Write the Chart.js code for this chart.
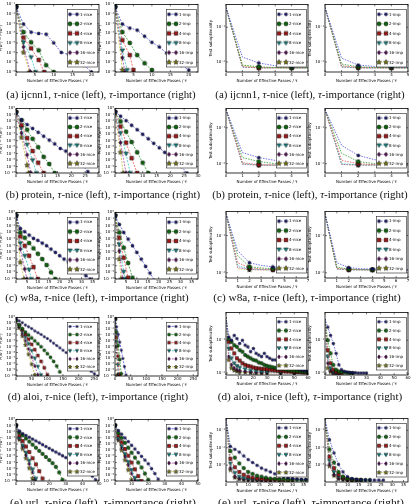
<!DOCTYPE html>
<html>
<head>
<meta charset="utf-8">
<script src="https://cdn.jsdelivr.net/npm/chart.js@4.4.1/dist/chart.umd.min.js"></script>
<style>
  body { margin: 0; background: #fff; }
  #page { position: relative; width: 413px; height: 504px; overflow: hidden; background: #fff; }
  #page canvas { position: absolute; }
  .cap { position: absolute; font-family: "Liberation Serif", serif; font-size: 10.5px; white-space: nowrap; color: #111; }
</style>
</head>
<body>
<div id="page"></div>
<script>
const niceLabels = ['1-nice', '2-nice', '4-nice', '8-nice', '16-nice', '32-nice'];
const impLabels = ['1-imp', '2-imp', '4-imp', '8-imp', '16-imp', '32-imp'];

// passes at which the curves were logged
const evenPasses = [0,2,4,6,8,10,12,14,16,18,20,22,24,26,28,30,32,34,36,38,40,42,44,46,48,50,52,54,56,58,60];
const tenPasses = [0,10,20,30,40,50,60,70,80,90,100,110,120,130,140,150,160,170,180,190,200,210,220,230,240,250,260];
const fivePasses = [0,5,10,15,20,25,30,35,40];
const unitPasses = [0,1,2,3,4,5,6,7];
const sparsePasses = [0,2,4,6,8,10,14,18,22,26,30,40,50,60];

// values are log10 of P(w^t) - P(w*) (or of the test suboptimality), one row per minibatch size
const ijcnnNiceX = [evenPasses, evenPasses, [0,2,4,6,7.5], [0,2,4,5.2], [0,2,3.8], [0,2,3.6]];
const ijcnnNiceLog = [
  [-1.28,-3.03,-3.87,-4.01,-4.08,-4.99,-5.97,-6.18,-7.09,-7.3,-8],
  [-1.28,-3.87,-4.92,-5.76,-7.3,-8],
  [-1.28,-4.43,-5.55,-6.74,-8],
  [-1.28,-4.92,-6.46,-8],
  [-1.28,-5.41,-8],
  [-1.28,-5.97,-8]];
const ijcnnImpX = [evenPasses, evenPasses, [0,2,4,5], [0,2,3.3], [0,2,2.7], evenPasses];
const ijcnnImpLog = [
  [-1.28,-3.03,-3.45,-3.66,-4.29,-4.92,-5.41,-6.04,-6.53,-7.3,-7.79],
  [-1.28,-3.87,-4.99,-6.25,-7.09,-7.79],
  [-1.28,-4.71,-6.25,-7.79],
  [-1.28,-5.76,-7.79],
  [-1.28,-6.53,-8],
  [-1.28,-7.79]];
const ijcnnNiceTest = [
  [-0.43,-1.86,-2.03,-2.11,-2.14,-2.14],
  [-0.43,-2.09,-2.14,-2.16,-2.17,-2.17],
  [-0.43,-2.14,-2.17,-2.17,-2.17,-2.17],
  [-0.43,-2.15,-2.17,-2.17,-2.17,-2.17],
  [-0.43,-2.15,-2.17,-2.17,-2.17,-2.17],
  [-0.43,-2.10,-2.16,-2.17,-2.17,-2.17]];
const ijcnnImpTest = [
  [-0.43,-1.89,-2.09,-2.13,-2.14,-2.15],
  [-0.43,-2.06,-2.14,-2.16,-2.16,-2.17],
  [-0.43,-2.11,-2.16,-2.17,-2.17,-2.17],
  [-0.43,-2.14,-2.17,-2.17,-2.17,-2.17],
  [-0.43,-2.15,-2.17,-2.17,-2.17,-2.17],
  [-0.43,-2.15,-2.17,-2.17,-2.17,-2.17]];

const proteinNiceX = [evenPasses, evenPasses, evenPasses, [0,2,4,6,7.4], [0,2,4,5.4], [0,2,4,4.6]];
const proteinNiceLog = [
  [-0.6,-1.8,-2.5,-3.1,-3.7,-4.3,-4.9,-5.5,-6.2,-6.6,-7.2,-7.5,-8.8,-9.8],
  [-0.6,-1.8,-3.3,-4.7,-6.0,-7.5,-8.6,-10],
  [-0.6,-2.6,-4.6,-6.6,-8.4,-10],
  [-0.6,-3.0,-5.6,-8.0,-10],
  [-0.6,-3.8,-7.2,-10],
  [-0.6,-4.5,-8.8,-10]];
const proteinImpX = [evenPasses, evenPasses, evenPasses, [0,2,4,5.5], evenPasses, [0,2,3]];
const proteinImpLog = [
  [-0.5,-1.2,-1.9,-2.6,-3.3,-4.0,-4.7,-5.4,-6.1,-6.8,-7.5,-8.2,-9.0,-10],
  [-0.6,-2.0,-3.6,-5.2,-6.8,-8.4,-10],
  [-0.6,-2.8,-5.3,-7.7,-10],
  [-0.6,-3.8,-7.0,-10],
  [-0.6,-5.3,-10],
  [-0.6,-6.8,-10]];
const proteinNiceTest = [
  [-0.49,-1.69,-1.83,-1.91,-1.97,-2.00],
  [-0.49,-1.83,-1.94,-2.00,-2.03,-2.03],
  [-0.49,-1.97,-2.03,-2.04,-2.04,-2.04],
  [-0.49,-2.00,-2.04,-2.04,-2.04,-2.04],
  [-0.49,-2.02,-2.04,-2.04,-2.04,-2.04],
  [-0.49,-2.00,-2.04,-2.04,-2.04,-2.04]];
const proteinImpTest = [
  [-0.49,-1.49,-1.77,-1.89,-1.94,-2.00],
  [-0.49,-1.71,-1.94,-2.00,-2.03,-2.03],
  [-0.49,-1.91,-2.00,-2.03,-2.04,-2.04],
  [-0.49,-2.00,-2.03,-2.04,-2.04,-2.04],
  [-0.49,-2.02,-2.04,-2.04,-2.04,-2.04],
  [-0.49,-2.02,-2.04,-2.04,-2.04,-2.04]];

const w8aNiceX = [evenPasses, evenPasses, evenPasses, [0,2,4,6,7], [0,2,4,5], [0,2,3.7]];
const w8aNiceLog = [
  [-0.5,-2.4,-2.9,-3.4,-3.9,-4.2,-4.6,-5.0,-5.5,-6.0,-6.5,-7.0,-7.5,-8.0,-8.5,-9.0,-9.5,-10],
  [-0.5,-3.0,-3.8,-4.6,-5.4,-6.2,-7.0,-7.9,-9.0,-10],
  [-0.5,-3.6,-5.0,-6.5,-8.2,-10],
  [-0.5,-4.6,-6.5,-8.6,-10],
  [-0.5,-5.5,-8.5,-10],
  [-0.5,-7.5,-10]];
const w8aImpX = [evenPasses, evenPasses, evenPasses, [0,2,4,4.6], [0,2,3.5], [0,2,2.8]];
const w8aImpLog = [
  [-0.5,-1.8,-3.0,-4.0,-5.0,-6.0,-7.0,-8.1,-9.1,-10.2],
  [-0.5,-3.0,-5.3,-7.6,-9.8],
  [-0.5,-3.8,-6.8,-9.8],
  [-0.5,-4.8,-8.9,-10],
  [-0.5,-5.8,-10],
  [-0.5,-7.0,-10]];
const w8aNiceTest = [
  [-0.41,-1.41,-1.73,-1.80,-1.84,-1.86,-1.88,-1.89],
  [-0.41,-1.54,-1.84,-1.87,-1.89,-1.90,-1.91,-1.92],
  [-0.41,-1.73,-1.86,-1.90,-1.91,-1.92,-1.92,-1.92],
  [-0.41,-1.81,-1.89,-1.91,-1.92,-1.92,-1.92,-1.92],
  [-0.41,-1.86,-1.91,-1.92,-1.92,-1.92,-1.92,-1.92],
  [-0.41,-1.89,-1.92,-1.92,-1.92,-1.92,-1.92,-1.92]];
const w8aImpTest = [
  [-0.41,-1.73,-1.86,-1.89,-1.90,-1.91,-1.92,-1.92],
  [-0.41,-1.85,-1.90,-1.91,-1.92,-1.92,-1.92,-1.92],
  [-0.41,-1.88,-1.91,-1.92,-1.92,-1.92,-1.92,-1.92],
  [-0.41,-1.89,-1.92,-1.92,-1.92,-1.92,-1.92,-1.92],
  [-0.41,-1.90,-1.92,-1.92,-1.92,-1.92,-1.92,-1.92],
  [-0.41,-1.90,-1.92,-1.92,-1.92,-1.92,-1.92,-1.92]];

const aloiNiceX = [tenPasses, tenPasses, tenPasses, tenPasses, tenPasses, tenPasses];
const aloiNiceLog = [
  [-0.2,-0.6,-0.9,-1.3,-1.6,-1.9,-2.3,-2.6,-2.9,-3.3,-3.6,-4.0,-4.4,-4.8,-5.2,-5.6,-6.0,-6.4,-6.8,-7.2,-7.6,-8.0,-8.4,-8.8,-9.2,-9.6,-10],
  [-0.5,-1.3,-1.9,-2.5,-3.0,-3.5,-4.0,-4.5,-5.0,-5.6,-6.2,-6.8,-7.5,-8.3,-9.3],
  [-0.5,-1.3,-2.1,-2.9,-3.7,-4.6,-5.5,-6.5,-7.5,-8.6,-9.8],
  [-0.5,-1.4,-2.4,-3.4,-4.5,-5.7,-7.0,-8.4,-9.8],
  [-0.5,-1.6,-2.8,-4.0,-5.4,-6.8,-8.3,-9.8],
  [-0.5,-1.8,-3.2,-4.7,-6.3,-8.0,-9.8]];
const aloiImpX = [fivePasses, fivePasses, fivePasses, [0,5,10,12], fivePasses, [0,4,8]];
const aloiImpLog = [
  [-0.3,-1.6,-2.9,-4.2,-5.6,-7.0,-8.4,-9.8],
  [-0.3,-2.5,-4.8,-7.2,-9.6],
  [-0.3,-3.4,-6.6,-9.8],
  [-0.3,-4.2,-8.1,-9.8],
  [-0.3,-5.0,-9.8],
  [-0.3,-5.0,-9.8]];
const aloiNiceTestX = [evenPasses, evenPasses, evenPasses, sparsePasses, sparsePasses, sparsePasses];
const aloiNiceTest = [
  [-0.3,-0.9,-1.0,-0.85,-0.95,-1.1,-1.0,-1.15,-1.2,-1.35,-1.25,-1.4,-1.45,-1.5,-1.4,-1.5,-1.55,-1.6,-1.6,-1.65,-1.7,-1.75,-1.75,-1.8,-1.82,-1.85,-1.88,-1.9,-1.92,-1.93,-1.95],
  [-0.3,-0.95,-1.05,-1.15,-1.2,-1.3,-1.35,-1.45,-1.5,-1.55,-1.6,-1.62,-1.68,-1.7,-1.75,-1.78,-1.8,-1.82,-1.84,-1.86,-1.87,-1.88,-1.9,-1.91,-1.92,-1.93,-1.94,-1.95,-1.96,-1.96,-1.97],
  [-0.3,-1.05,-1.25,-1.4,-1.55,-1.62,-1.7,-1.75,-1.78,-1.8,-1.83,-1.85,-1.86,-1.87,-1.88,-1.89,-1.9,-1.91,-1.92,-1.93,-1.93,-1.94,-1.95,-1.95,-1.96,-1.96,-1.97,-1.97,-1.98,-1.98,-1.98],
  [-0.3,-1.25,-1.55,-1.7,-1.78,-1.83,-1.88,-1.92,-1.94,-1.96,-1.97,-1.98,-1.99,-1.99],
  [-0.3,-1.5,-1.75,-1.85,-1.9,-1.93,-1.95,-1.97,-1.98,-1.99,-1.99,-2.0,-2.0,-2.0],
  [-0.3,-1.6,-1.85,-1.92,-1.95,-1.97,-1.98,-1.99,-2.0,-2.0,-2.0,-2.0,-2.0,-2.0]];
const aloiImpTest = [
  [-0.35,-0.6,-0.85,-1.1,-1.4,-1.75,-1.9,-1.95,-1.97,-1.98,-1.99,-1.99,-2.0,-2.0,-2.0,-2.0],
  [-0.35,-1.0,-1.4,-1.75,-1.9,-1.95,-1.97,-1.98,-1.99,-2.0,-2.0],
  [-0.35,-1.3,-1.7,-1.9,-1.96,-1.99,-2.0],
  [-0.35,-1.5,-1.85,-1.96,-1.99,-2.0],
  [-0.35,-1.7,-1.93,-1.99,-2.0],
  [-0.35,-1.85,-1.97,-2.0,-2.0]];

const urlNiceX = [evenPasses, evenPasses, evenPasses, evenPasses, [0,2,4,6,8,10,11.5], evenPasses];
const urlNiceLog = [
  [-1.0,-1.9,-2.3,-2.6,-2.9,-3.2,-3.5,-3.8,-4.1,-4.4,-4.7,-5.0,-5.3,-5.6,-5.9,-6.2,-6.5,-6.8,-7.1,-7.4,-7.6,-7.9,-8.6,-9.2,-9.8],
  [-1.0,-2.1,-2.6,-3.1,-3.6,-4.1,-4.6,-5.1,-5.6,-6.1,-6.6,-7.1,-7.7,-8.6,-9.8],
  [-1.0,-2.6,-3.5,-4.4,-5.3,-6.3,-7.3,-8.4,-9.6],
  [-1.0,-3.0,-4.2,-5.4,-6.7,-8.1,-9.6],
  [-1.0,-3.1,-4.4,-5.8,-7.2,-8.6,-9.8],
  [-1.0,-3.3,-4.8,-6.3,-7.9,-9.6]];
const urlImpLog = [
  [-1.0,-1.8,-2.4,-3.0,-3.6,-4.2,-4.8,-5.4,-6.0,-6.6,-7.2,-8.0,-8.8,-9.7],
  [-1.0,-2.2,-3.0,-3.8,-4.6,-5.4,-6.2,-7.0,-7.8,-8.8,-9.8],
  [-1.0,-2.6,-3.7,-4.8,-5.9,-7.0,-8.1,-9.2,-10],
  [-1.0,-3.0,-4.3,-5.6,-6.9,-8.2,-9.5,-10],
  [-1.0,-3.2,-4.6,-6.0,-7.4,-8.8,-10],
  [-1.0,-3.4,-5.0,-6.6,-8.2,-9.8]];
const urlNiceTest = [
  [-0.35,-1.92,-2.09,-2.25,-2.47,-2.68,-2.85,-3.01,-3.17,-3.28,-3.39,-3.5,-3.61,-3.66,-3.72,-3.77,-3.8,-3.82,-3.82],
  [-0.35,-2.19,-2.57,-2.9,-3.17,-3.39,-3.5,-3.61,-3.66,-3.72,-3.77,-3.79,-3.82,-3.82,-3.84,-3.84,-3.84,-3.85,-3.85],
  [-0.35,-2.63,-3.12,-3.39,-3.55,-3.66,-3.72,-3.77,-3.8,-3.82,-3.84,-3.84,-3.85,-3.85,-3.86,-3.86],
  [-0.35,-2.9,-3.44,-3.66,-3.75,-3.79,-3.82,-3.84,-3.84,-3.85,-3.85,-3.86,-3.86],
  [-0.35,-3.17,-3.66,-3.77,-3.82,-3.84,-3.85,-3.85,-3.86,-3.86,-3.86],
  [-0.35,-3.28,-3.72,-3.8,-3.84,-3.85,-3.86,-3.86,-3.86,-3.86,-3.86]];
const urlImpTest = [
  [-0.35,-1.54,-2.3,-2.95,-3.39,-3.66,-3.77,-3.82,-3.84,-3.85,-3.85,-3.86,-3.86,-3.86],
  [-0.35,-2.09,-2.85,-3.39,-3.66,-3.77,-3.82,-3.84,-3.85,-3.86,-3.86],
  [-0.35,-2.52,-3.17,-3.55,-3.72,-3.8,-3.84,-3.85,-3.86],
  [-0.35,-2.74,-3.39,-3.66,-3.79,-3.84,-3.85,-3.86],
  [-0.35,-2.95,-3.55,-3.77,-3.82,-3.85,-3.86],
  [-0.35,-3.06,-3.61,-3.79,-3.84,-3.86,-3.86]];

// tick labels
const ijcnnTicks = [0,5,10,15,20];
const proteinTicks = [0,5,10,15,20,25,30];
const w8aTicks = [0,5,10,15,20,25,30,35];
const aloiTicks = [0,50,100,150,200,250];
const urlTicks = [0,10,20,30,40,50];
const fiveTicks = [0,1,2,3,4,5];
const sevenTicks = [0,1,2,3,4,5,6,7];
const aloiTestTicks = [0,10,20,30,40,50,60];
const urlTestTicks = [0,5,10,15,20,25,30,35];
const ijcnnDecades = [-1,-2,-3,-4,-5,-6,-7,-8];
const convDecades = [0,-1,-2,-3,-4,-5,-6,-7,-8,-9,-10];
const testDecades = [-1,-2];
const urlTestDecades = [-1,-2,-3];

const seriesStyle = [
  { line: '#5050e0', fill: '#14146e', shape: 'circle', k: 0.75 },
  { line: '#2f9a2f', fill: '#0b640b', shape: 'circle', k: 1 },
  { line: '#ec5656', fill: '#a01414', shape: 'square', k: 1 },
  { line: '#38c4c4', fill: '#128080', shape: 'tridown', k: 1.1 },
  { line: '#b048b0', fill: '#4e0a50', shape: 'diamond', k: 1.1 },
  { line: '#c4c438', fill: '#7c7c10', shape: 'star', k: 1.3 }
];

function markerCanvas(shape, fill, size) {
  const s = Math.ceil(size) + 2;
  const c = document.createElement('canvas');
  c.width = s; c.height = s;
  const g = c.getContext('2d');
  const m = s / 2, r = size / 2;
  g.fillStyle = fill; g.strokeStyle = '#000'; g.lineWidth = 0.5;
  g.beginPath();
  if (shape === 'circle') g.arc(m, m, r, 0, Math.PI * 2);
  else if (shape === 'square') g.rect(m - r * 0.9, m - r * 0.9, r * 1.8, r * 1.8);
  else if (shape === 'tridown') { g.moveTo(m - r, m - r * 0.7); g.lineTo(m + r, m - r * 0.7); g.lineTo(m, m + r); g.closePath(); }
  else if (shape === 'diamond') { g.moveTo(m, m - r); g.lineTo(m + r * 0.75, m); g.lineTo(m, m + r); g.lineTo(m - r * 0.75, m); g.closePath(); }
  else {
    for (let k = 0; k < 10; k++) {
      const a = -Math.PI / 2 + k * Math.PI / 5, rr = k % 2 ? r * 0.45 : r;
      g.lineTo(m + rr * Math.cos(a), m + rr * Math.sin(a));
    }
    g.closePath();
  }
  g.fill(); g.stroke();
  return c;
}

const Y_AXIS_W = 17, X_AXIS_H = 11, PAD_T = 3, PAD_R = 4;

const plots = [
  { box: [16, 4, 83, 68], kind: 'conv', names: niceLabels, xs: ijcnnNiceX, ys: ijcnnNiceLog, xMax: 22, xTicks: ijcnnTicks, yMin: -8, yMax: -1, yTicks: ijcnnDecades, mk: 4 },
  { box: [115, 4, 83, 68], kind: 'conv', names: impLabels, xs: ijcnnImpX, ys: ijcnnImpLog, xMax: 22.5, xTicks: ijcnnTicks, yMin: -8, yMax: -1, yTicks: ijcnnDecades, mk: 4 },
  { box: [226, 4, 82, 68], kind: 'test', names: niceLabels, xs: [unitPasses], ys: ijcnnNiceTest, xMax: 5, xTicks: fiveTicks, yMin: -2.29, yMax: -0.34, yTicks: testDecades, mk: 4 },
  { box: [325, 4, 83, 68], kind: 'test', names: impLabels, xs: [unitPasses], ys: ijcnnImpTest, xMax: 5, xTicks: fiveTicks, yMin: -2.29, yMax: -0.34, yTicks: testDecades, mk: 4 },

  { box: [16, 108, 83, 65], kind: 'conv', names: niceLabels, xs: proteinNiceX, ys: proteinNiceLog, xMax: 30, xTicks: proteinTicks, yMin: -10, yMax: 0, yTicks: convDecades, mk: 4 },
  { box: [115, 108, 83, 65], kind: 'conv', names: impLabels, xs: proteinImpX, ys: proteinImpLog, xMax: 30, xTicks: proteinTicks, yMin: -10, yMax: 0, yTicks: convDecades, mk: 4 },
  { box: [226, 108, 82, 65], kind: 'test', names: niceLabels, xs: [unitPasses], ys: proteinNiceTest, xMax: 5, xTicks: fiveTicks, yMin: -2.26, yMax: -0.46, yTicks: testDecades, mk: 4 },
  { box: [325, 108, 83, 65], kind: 'test', names: impLabels, xs: [unitPasses], ys: proteinImpTest, xMax: 5, xTicks: fiveTicks, yMin: -2.26, yMax: -0.46, yTicks: testDecades, mk: 4 },

  { box: [16, 212, 83, 67], kind: 'conv', names: niceLabels, xs: w8aNiceX, ys: w8aNiceLog, xMax: 38, xTicks: w8aTicks, yMin: -10, yMax: 0, yTicks: convDecades, mk: 4 },
  { box: [115, 212, 83, 67], kind: 'conv', names: impLabels, xs: w8aImpX, ys: w8aImpLog, xMax: 38, xTicks: w8aTicks, yMin: -10, yMax: 0, yTicks: convDecades, mk: 4 },
  { box: [226, 211, 82, 67], kind: 'test', names: niceLabels, xs: [unitPasses], ys: w8aNiceTest, xMax: 7, xTicks: sevenTicks, yMin: -2.14, yMax: -0.35, yTicks: testDecades, mk: 4 },
  { box: [325, 211, 83, 67], kind: 'test', names: impLabels, xs: [unitPasses], ys: w8aImpTest, xMax: 7, xTicks: sevenTicks, yMin: -2.14, yMax: -0.35, yTicks: testDecades, mk: 4 },

  { box: [16, 317, 83, 59], kind: 'conv', names: niceLabels, xs: aloiNiceX, ys: aloiNiceLog, xMax: 265, xTicks: aloiTicks, yMin: -10, yMax: 0, yTicks: convDecades, mk: 3 },
  { box: [115, 317, 83, 59], kind: 'conv', names: impLabels, xs: aloiImpX, ys: aloiImpLog, xMax: 265, xTicks: aloiTicks, yMin: -10, yMax: 0, yTicks: convDecades, mk: 3 },
  { box: [226, 312, 82, 63], kind: 'test', names: niceLabels, xs: aloiNiceTestX, ys: aloiNiceTest, xMax: 60, xTicks: aloiTestTicks, yMin: -2.06, yMax: -0.15, yTicks: testDecades, mk: 3.5 },
  { box: [325, 312, 83, 63], kind: 'test', names: impLabels, xs: [evenPasses], ys: aloiImpTest, xMax: 60, xTicks: aloiTestTicks, yMin: -2.06, yMax: -0.15, yTicks: testDecades, mk: 3.5 },

  { box: [16, 419, 83, 62], kind: 'conv', names: niceLabels, xs: urlNiceX, ys: urlNiceLog, xMax: 50, xTicks: urlTicks, yMin: -10, yMax: 0, yTicks: convDecades, mk: 3.5 },
  { box: [115, 419, 83, 62], kind: 'conv', names: impLabels, xs: [evenPasses], ys: urlImpLog, xMax: 50, xTicks: urlTicks, yMin: -10, yMax: 0, yTicks: convDecades, mk: 3.5 },
  { box: [226, 418, 82, 64], kind: 'test', names: niceLabels, xs: [evenPasses], ys: urlNiceTest, xMax: 37, xTicks: urlTestTicks, yMin: -3.97, yMax: -0.31, yTicks: urlTestDecades, mk: 3.5 },
  { box: [325, 418, 83, 64], kind: 'test', names: impLabels, xs: [evenPasses], ys: urlImpTest, xMax: 37, xTicks: urlTestTicks, yMin: -3.97, yMax: -0.31, yTicks: urlTestDecades, mk: 3.5 }
];

const captions = [
  { html: '(a) ijcnn1, <i>τ</i>-nice (left), <i>τ</i>-importance (right)', cx: 101, cy: 94, w: 189 },
  { html: '(a) ijcnn1, <i>τ</i>-nice (left), <i>τ</i>-importance (right)', cx: 310, cy: 94, w: 189 },
  { html: '(b) protein, <i>τ</i>-nice (left), <i>τ</i>-importance (right)', cx: 103, cy: 194, w: 194 },
  { html: '(b) protein, <i>τ</i>-nice (left), <i>τ</i>-importance (right)', cx: 310, cy: 194, w: 195 },
  { html: '(c) w8a, <i>τ</i>-nice (left), <i>τ</i>-importance (right)', cx: 97, cy: 297, w: 184 },
  { html: '(c) w8a, <i>τ</i>-nice (left), <i>τ</i>-importance (right)', cx: 307, cy: 297, w: 188 },
  { html: '(d) aloi, <i>τ</i>-nice (left), <i>τ</i>-importance (right)', cx: 98, cy: 396, w: 180 },
  { html: '(d) aloi, <i>τ</i>-nice (left), <i>τ</i>-importance (right)', cx: 310, cy: 396, w: 184 },
  { html: '(e) url, <i>τ</i>-nice (left), <i>τ</i>-importance (right)', cx: 103, cy: 502, w: 186 },
  { html: '(e) url, <i>τ</i>-nice (left), <i>τ</i>-importance (right)', cx: 311, cy: 502, w: 186 }
];

const SUP = { '-': '⁻', '0': '⁰', '1': '¹', '2': '²', '3': '³', '4': '⁴', '5': '⁵', '6': '⁶', '7': '⁷', '8': '⁸', '9': '⁹' };
const powLabel = v => '10' + String(Math.round(Math.log10(v))).split('').map(c => SUP[c]).join('');

const framePlugin = {
  id: 'frame',
  afterDraw(chart) {
    const a = chart.chartArea, g = chart.ctx;
    const sx = chart.scales.x, sy = chart.scales.y;
    g.save();
    g.strokeStyle = '#000';
    g.lineWidth = 0.5;
    g.beginPath();
    sx.ticks.forEach(t => {
      const p = sx.getPixelForValue(t.value);
      g.moveTo(p, a.bottom); g.lineTo(p, a.bottom - 2);
      g.moveTo(p, a.top); g.lineTo(p, a.top + 2);
    });
    sy.ticks.forEach(t => {
      const p = sy.getPixelForValue(t.value);
      g.moveTo(a.left, p); g.lineTo(a.left + 2, p);
      g.moveTo(a.right, p); g.lineTo(a.right - 2, p);
    });
    g.stroke();
    g.lineWidth = 0.8;
    g.strokeRect(a.left, a.top, a.right - a.left, a.bottom - a.top);
    g.restore();
  }
};

const boxLegendPlugin = {
  id: 'boxLegend',
  afterDraw(chart, args, o) {
    const a = chart.chartArea, g = chart.ctx, ds = chart.data.datasets;
    const x0 = a.right - o.inset - o.width, y0 = a.top + o.top;
    const hgt = a.bottom - o.bottom - y0;
    const rowH = hgt / ds.length;
    g.save();
    g.fillStyle = '#fff';
    g.fillRect(x0, y0, o.width, hgt);
    g.strokeStyle = '#222';
    g.lineWidth = 0.6;
    g.strokeRect(x0, y0, o.width, hgt);
    g.font = '4px "DejaVu Sans"';
    g.textBaseline = 'middle';
    ds.forEach((d, i) => {
      const cy = y0 + rowH * (i + 0.5);
      g.strokeStyle = d.borderColor;
      g.lineWidth = d.borderWidth;
      g.setLineDash(d.borderDash);
      g.beginPath(); g.moveTo(x0 + 2, cy); g.lineTo(x0 + 10, cy); g.stroke();
      g.setLineDash([]);
      const m = d.legendMarker;
      g.drawImage(m, x0 + 2.5 - m.width / 2, cy - m.height / 2);
      g.drawImage(m, x0 + 9.5 - m.width / 2, cy - m.height / 2);
      g.fillStyle = '#000';
      g.fillText(d.label, x0 + 12.5, cy + 0.3);
    });
    g.restore();
  }
};

const page = document.getElementById('page');
const tickFont = { family: 'DejaVu Sans', size: 4 };
const titleFont = { family: 'DejaVu Sans', size: 4 };

plots.forEach(p => {
  const [bx, by, bw, bh] = p.box;
  const w = bw + Y_AXIS_W + PAD_R, h = bh + PAD_T + X_AXIS_H;
  const cv = document.createElement('canvas');
  cv.width = w; cv.height = h;
  cv.style.left = (bx - Y_AXIS_W) + 'px';
  cv.style.top = (by - PAD_T) + 'px';
  cv.style.width = w + 'px';
  cv.style.height = h + 'px';
  page.appendChild(cv);

  const isTest = p.kind === 'test';
  const datasets = p.ys.map((ys, i) => {
    const st = seriesStyle[i];
    const xs = (p.xs[i] || p.xs[0]).slice(0, ys.length);
    const marker = markerCanvas(st.shape, st.fill, p.mk * st.k);
    return {
      label: p.names[i],
      data: ys.map((e, j) => ({ x: xs[j], y: Math.pow(10, e) })),
      borderColor: st.line,
      borderWidth: 0.8,
      borderDash: isTest ? [1.5, 1.2] : [2, 1.3],
      tension: 0,
      fill: false,
      pointStyle: marker,
      legendMarker: marker,
      pointRadius: ctx => {
        if (!ctx.raw) return 0;
        if (!isTest) return 2;
        return ctx.raw.x > 0 && ctx.raw.x % 2 === 0 ? 2 : 0;
      },
      pointHoverRadius: 0,
      clip: 0
    };
  });

  new Chart(cv, {
    type: 'line',
    data: { datasets },
    options: {
      responsive: false,
      animation: false,
      devicePixelRatio: 1,
      events: [],
      layout: { padding: { top: PAD_T, right: PAD_R, left: 0, bottom: 0 } },
      plugins: {
        legend: { display: false },
        tooltip: { enabled: false },
        boxLegend: { width: 30, inset: 1.5, top: 5, bottom: 5 }
      },
      scales: {
        x: {
          type: 'linear', min: 0, max: p.xMax,
          grid: { display: false, drawTicks: false, tickLength: 0 }, border: { display: false },
          ticks: { font: tickFont, color: '#000', padding: 1, maxRotation: 0, autoSkip: false },
          afterBuildTicks: s => { s.ticks = p.xTicks.map(v => ({ value: v })); },
          title: { display: true, text: 'Number of Effective Passes / τ', font: titleFont, color: '#000', padding: { top: 0, bottom: 0 } },
          afterFit: s => { s.height = X_AXIS_H; }
        },
        y: {
          type: 'logarithmic', min: Math.pow(10, p.yMin), max: Math.pow(10, p.yMax),
          grid: { display: false, drawTicks: false, tickLength: 0 }, border: { display: false },
          ticks: { font: tickFont, color: '#000', padding: 1, autoSkip: false, callback: v => powLabel(v) },
          afterBuildTicks: s => { s.ticks = p.yTicks.map(e => ({ value: Math.pow(10, e) })); },
          title: { display: true, text: isTest ? 'Test suboptimality' : 'P(wᵗ) − P(w*)', font: titleFont, color: '#000', padding: { top: 0, bottom: 1 } },
          afterFit: s => { s.width = Y_AXIS_W; }
        }
      }
    },
    plugins: [framePlugin, boxLegendPlugin]
  });
});

captions.forEach(c => {
  const el = document.createElement('div');
  el.className = 'cap';
  el.innerHTML = c.html;
  page.appendChild(el);
  el.style.left = c.cx + 'px';
  el.style.top = c.cy + 'px';
  const s = c.w / el.offsetWidth;
  el.style.transform = 'translate(-50%, -50%) scaleX(' + s.toFixed(3) + ')';
});
</script>
</body>
</html>
